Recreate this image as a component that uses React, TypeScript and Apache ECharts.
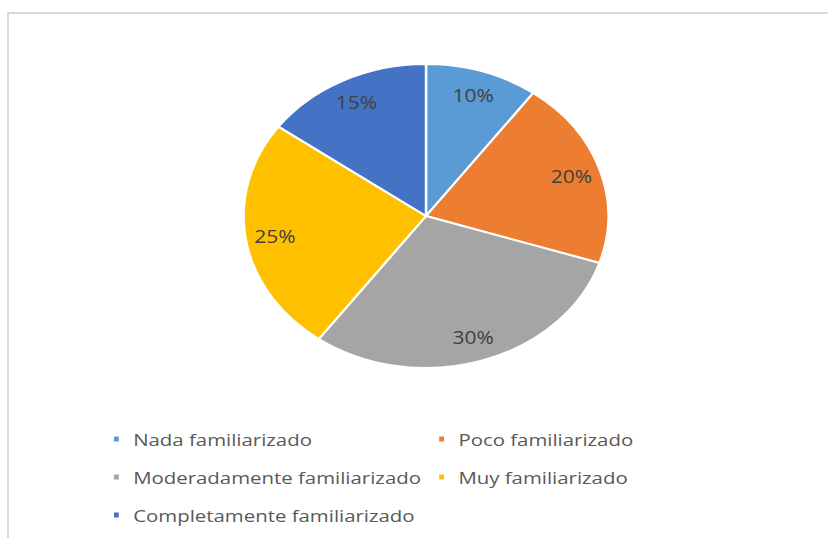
import React, { useEffect, useRef } from "react";
import * as echarts from "echarts";

const categories = [
  "Nada familiarizado",
  "Poco familiarizado",
  "Moderadamente familiarizado",
  "Muy familiarizado",
  "Completamente familiarizado",
];
const values = [10, 20, 30, 25, 15];
const colors = ["#5B9BD5", "#ED7D31", "#A5A5A5", "#FFC000", "#4472C4"];

// legend placement (unscaled coords): [left, top]
const legendSpots: [number, number][] = [
  [93, 429],
  [364, 429],
  [93, 467],
  [364, 467],
  [93, 505],
];

const SCALE_X = 1.2;
const W = 828 / SCALE_X;
const H = 538;

export default function App() {
  const ref = useRef<HTMLDivElement>(null);
  useEffect(() => {
    if (!ref.current) return;
    const chart = echarts.init(ref.current, undefined, { renderer: "svg" });
    const data = categories.map((name, i) => ({
      name,
      value: values[i],
      itemStyle: { color: colors[i] },
    }));
    const total = values.reduce((a, b) => a + b, 0);
    const font = "'Open Sans', 'Noto Sans', sans-serif";
    chart.setOption({
      animation: false,
      color: colors,
      legend: categories.map((name, i) => ({
        data: [name],
        left: legendSpots[i][0],
        top: legendSpots[i][1],
        padding: 0,
        icon: "rect",
        itemWidth: 6,
        itemHeight: 7,
        selectedMode: false,
        textStyle: {
          color: "#595959",
          fontFamily: font,
          fontSize: 17,
          lineHeight: 20,
          padding: [0, 0, 0, 6],
        },
      })),
      series: [
        {
          type: "pie",
          center: [355, 216],
          radius: [0, 152],
          startAngle: 90,
          clockwise: true,
          silent: true,
          label: { show: false },
          labelLine: { show: false },
          itemStyle: { borderColor: "#ffffff", borderWidth: 2 },
          emphasis: { disabled: true },
          data,
        },
        {
          type: "pie",
          center: [355, 216],
          radius: [97, 152],
          startAngle: 90,
          clockwise: true,
          silent: true,
          legendHoverLink: false,
          itemStyle: { color: "rgba(0,0,0,0)" },
          emphasis: { disabled: true },
          labelLine: { show: false },
          label: {
            show: true,
            position: "inside",
            color: "#404040",
            fontFamily: font,
            fontSize: 17.5,
            formatter: (p: any) => Math.round((p.value / total) * 100) + "%",
          },
          data: categories.map((name, i) => ({
            name,
            value: values[i],
            itemStyle: { color: "rgba(0,0,0,0)" },
          })),
        },
      ],
    });
    return () => chart.dispose();
  }, []);

  return (
    <div style={{ position: "absolute", left: 0, top: 0, width: 828, height: 538, overflow: "hidden", background: "#fff" }}>
      <div
        style={{
          position: "absolute",
          left: 7,
          top: 12,
          width: 900,
          height: 600,
          borderTop: "2px solid #d9d9d9",
          borderLeft: "2px solid #d9d9d9",
          boxSizing: "border-box",
        }}
      />
      <div
        ref={ref}
        style={{
          position: "absolute",
          left: 0,
          top: 0,
          width: W,
          height: H,
          transform: `scaleX(${SCALE_X})`,
          transformOrigin: "0 0",
        }}
      />
    </div>
  );
}
